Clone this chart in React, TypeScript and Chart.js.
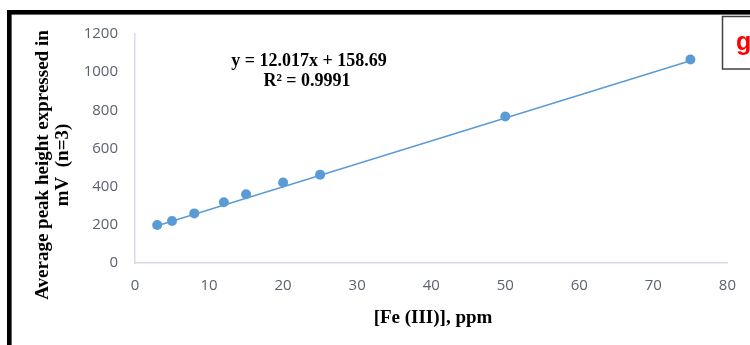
import React, { useEffect, useRef } from "react";
import { Chart, registerables } from "chart.js";

Chart.register(...registerables);

const concentrations = [3, 5, 8, 12, 15, 20, 25, 50, 75];
const peakHeights = [199, 220, 260, 318, 360, 422, 463, 768, 1066];
const trendX = [3, 75];
const trendY = [195, 1060];
const equationLines = ["y = 12.017x + 158.69", "R\u00B2 = 0.9991"];
const panelLabel = "g";
const xTitle = "[Fe (III)], ppm";
const yTitle = ["Average peak height expressed in", "mV  (n=3)"];

const decorPlugin = {
  id: "decor",
  afterDraw(chart: any) {
    const ctx = chart.ctx;
    ctx.save();
    // outer black frame
    ctx.fillStyle = "#000000";
    ctx.fillRect(7, 10, 4.6, 345);
    ctx.fillRect(7, 10, 750, 4.6);
    // panel label box
    ctx.strokeStyle = "#404040";
    ctx.lineWidth = 1.5;
    ctx.strokeRect(722.5, 16.5, 40, 52.5);
    ctx.fillStyle = "#ff0000";
    ctx.font = "bold 25px 'Liberation Sans'";
    ctx.textAlign = "left";
    ctx.textBaseline = "alphabetic";
    ctx.fillText(panelLabel, 736, 50);
    // equation
    ctx.fillStyle = "#000000";
    ctx.font = "bold 18px 'Liberation Serif'";
    ctx.textAlign = "center";
    ctx.textBaseline = "middle";
    ctx.fillText(equationLines[0], 309, 61);
    ctx.fillText(equationLines[1], 307, 81);
    // x title
    ctx.font = "bold 19px 'Liberation Serif'";
    ctx.fillText(xTitle, 433, 318);
    // y title
    ctx.translate(0, 0);
    ctx.save();
    ctx.translate(43, 165);
    ctx.rotate(-Math.PI / 2);
    ctx.fillText(yTitle[0], 0, 0);
    ctx.restore();
    ctx.save();
    ctx.translate(63, 165);
    ctx.rotate(-Math.PI / 2);
    ctx.fillText(yTitle[1], 0, 0);
    ctx.restore();
    ctx.restore();
  },
};

export default function App() {
  const ref = useRef<HTMLCanvasElement>(null);
  useEffect(() => {
    if (!ref.current) return;
    const tickColor = "#5a6270";
    const axisColor = "#d6dce5";
    const chart = new Chart(ref.current, {
      type: "scatter",
      data: {
        datasets: [
          {
            type: "line",
            data: trendX.map((x, i) => ({ x, y: trendY[i] })),
            borderColor: "#5b9bd5",
            borderWidth: 1.5,
            pointRadius: 0,
            showLine: true,
            fill: false,
          },
          {
            data: concentrations.map((x, i) => ({ x, y: peakHeights[i] })),
            backgroundColor: "#5b9bd5",
            borderWidth: 0,
            pointRadius: 5,
          },
        ],
      },
      options: {
        responsive: false,
        animation: false,
        layout: { padding: { left: 0, top: 34, right: 19, bottom: 0 } },
        plugins: {
          legend: { display: false },
          tooltip: { enabled: false },
        },
        scales: {
          x: {
            type: "linear",
            min: 0,
            max: 80,
            afterFit: (s: any) => {
              s.height = 82;
            },
            ticks: {
              stepSize: 10,
              color: tickColor,
              padding: 14,
              font: { family: "'Open Sans'", size: 15 },
              callback: (v: any) => String(v),
            },
            grid: { display: false, drawTicks: false },
            border: { display: true, color: axisColor, width: 1.5 },
            title: { display: false },
          },
          y: {
            type: "linear",
            min: 0,
            max: 1200,
            afterFit: (s: any) => {
              s.width = 135;
            },
            ticks: {
              stepSize: 200,
              color: tickColor,
              padding: 17,
              font: { family: "'Open Sans'", size: 15 },
              callback: (v: any) => String(v),
            },
            grid: { display: false, drawTicks: false },
            border: { display: true, color: axisColor, width: 1.5 },
            title: { display: false },
          },
        },
      },
      plugins: [decorPlugin],
    } as any);
    return () => chart.destroy();
  }, []);
  return (
    <div style={{ position: "fixed", left: 0, top: 0, width: 750, height: 345, background: "#ffffff" }}>
      <canvas ref={ref} width={750} height={345} style={{ width: 750, height: 345, display: "block" }} />
    </div>
  );
}
